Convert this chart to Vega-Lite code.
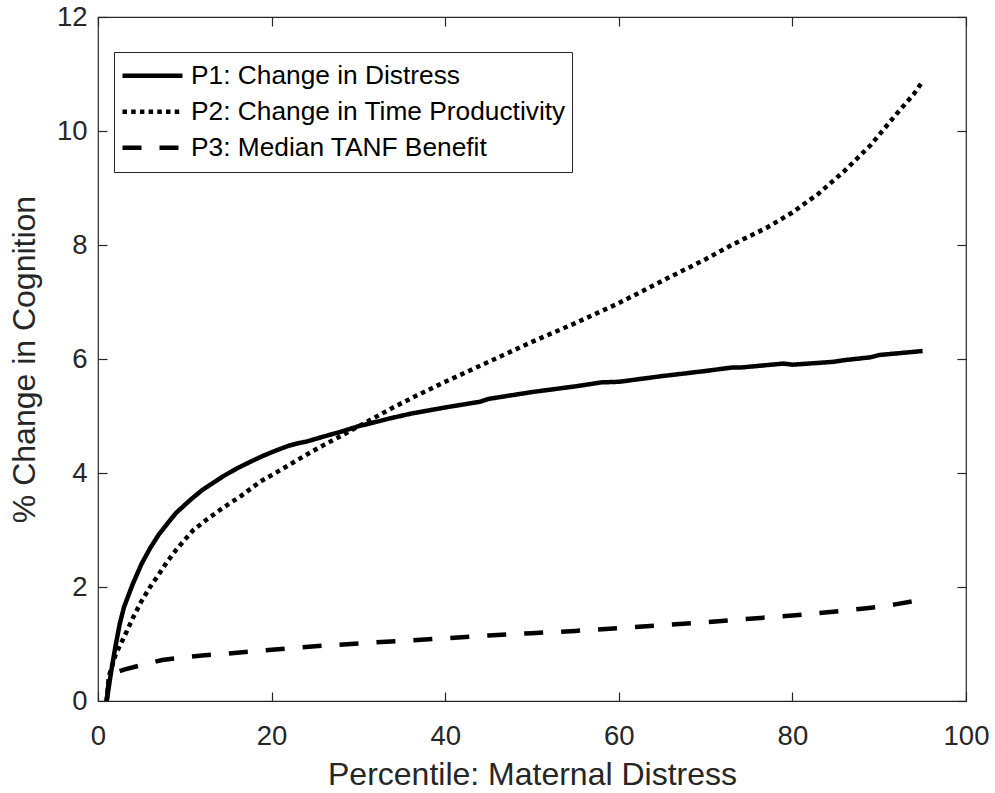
{
  "$schema": "https://vega.github.io/schema/vega-lite/v6.json",
  "width": 868,
  "height": 684,
  "autosize": {"type": "none"},
  "padding": {"left": 98, "top": 17, "right": 29, "bottom": 92},
  "config": {
    "font": "Liberation Sans",
    "view": {"stroke": "#262626", "strokeWidth": 1.2},
    "axis": {"grid": false, "domain": false, "labelFontSize": 27.5, "labelColor": "#262626", "tickColor": "#262626", "tickSize": -9, "tickWidth": 1.2, "titleFontSize": 32, "titleFontWeight": "normal", "titleColor": "#262626", "labelFlush": false, "labelOverlap": false}
  },
  "data": {"values": [
    {"s": "P1: Change in Distress", "x": 1, "y": 0},
    {"s": "P1: Change in Distress", "x": 1.5, "y": 0.5},
    {"s": "P1: Change in Distress", "x": 2, "y": 0.95},
    {"s": "P1: Change in Distress", "x": 2.5, "y": 1.35},
    {"s": "P1: Change in Distress", "x": 3, "y": 1.65},
    {"s": "P1: Change in Distress", "x": 4, "y": 2.05},
    {"s": "P1: Change in Distress", "x": 5, "y": 2.4},
    {"s": "P1: Change in Distress", "x": 6, "y": 2.68},
    {"s": "P1: Change in Distress", "x": 7, "y": 2.92},
    {"s": "P1: Change in Distress", "x": 8.35, "y": 3.18},
    {"s": "P1: Change in Distress", "x": 9, "y": 3.3},
    {"s": "P1: Change in Distress", "x": 10.65, "y": 3.53},
    {"s": "P1: Change in Distress", "x": 12, "y": 3.7},
    {"s": "P1: Change in Distress", "x": 13, "y": 3.8},
    {"s": "P1: Change in Distress", "x": 14.5, "y": 3.95},
    {"s": "P1: Change in Distress", "x": 16, "y": 4.08},
    {"s": "P1: Change in Distress", "x": 17.6, "y": 4.2},
    {"s": "P1: Change in Distress", "x": 19, "y": 4.3},
    {"s": "P1: Change in Distress", "x": 20.6, "y": 4.4},
    {"s": "P1: Change in Distress", "x": 22, "y": 4.48},
    {"s": "P1: Change in Distress", "x": 23.3, "y": 4.53},
    {"s": "P1: Change in Distress", "x": 24, "y": 4.55},
    {"s": "P1: Change in Distress", "x": 26, "y": 4.64},
    {"s": "P1: Change in Distress", "x": 27.9, "y": 4.72},
    {"s": "P1: Change in Distress", "x": 30, "y": 4.82},
    {"s": "P1: Change in Distress", "x": 33.7, "y": 4.96},
    {"s": "P1: Change in Distress", "x": 36, "y": 5.04},
    {"s": "P1: Change in Distress", "x": 40, "y": 5.15},
    {"s": "P1: Change in Distress", "x": 44, "y": 5.25},
    {"s": "P1: Change in Distress", "x": 45, "y": 5.3},
    {"s": "P1: Change in Distress", "x": 50, "y": 5.42},
    {"s": "P1: Change in Distress", "x": 55, "y": 5.52},
    {"s": "P1: Change in Distress", "x": 58, "y": 5.59},
    {"s": "P1: Change in Distress", "x": 60, "y": 5.6},
    {"s": "P1: Change in Distress", "x": 65, "y": 5.7},
    {"s": "P1: Change in Distress", "x": 70, "y": 5.79},
    {"s": "P1: Change in Distress", "x": 73, "y": 5.85},
    {"s": "P1: Change in Distress", "x": 74, "y": 5.85},
    {"s": "P1: Change in Distress", "x": 79, "y": 5.92},
    {"s": "P1: Change in Distress", "x": 80, "y": 5.9},
    {"s": "P1: Change in Distress", "x": 84.7, "y": 5.95},
    {"s": "P1: Change in Distress", "x": 86, "y": 5.98},
    {"s": "P1: Change in Distress", "x": 89, "y": 6.03},
    {"s": "P1: Change in Distress", "x": 90, "y": 6.07},
    {"s": "P1: Change in Distress", "x": 95, "y": 6.14},
    {"s": "P2: Change in Time Productivity", "x": 1, "y": 0},
    {"s": "P2: Change in Time Productivity", "x": 1.25, "y": 0.43},
    {"s": "P2: Change in Time Productivity", "x": 2, "y": 0.8},
    {"s": "P2: Change in Time Productivity", "x": 2.6, "y": 1.0},
    {"s": "P2: Change in Time Productivity", "x": 3, "y": 1.12},
    {"s": "P2: Change in Time Productivity", "x": 4, "y": 1.45},
    {"s": "P2: Change in Time Productivity", "x": 5, "y": 1.75},
    {"s": "P2: Change in Time Productivity", "x": 6, "y": 2.0},
    {"s": "P2: Change in Time Productivity", "x": 7, "y": 2.22},
    {"s": "P2: Change in Time Productivity", "x": 8, "y": 2.45},
    {"s": "P2: Change in Time Productivity", "x": 9, "y": 2.65},
    {"s": "P2: Change in Time Productivity", "x": 10, "y": 2.83},
    {"s": "P2: Change in Time Productivity", "x": 11, "y": 3.0},
    {"s": "P2: Change in Time Productivity", "x": 12.5, "y": 3.18},
    {"s": "P2: Change in Time Productivity", "x": 14.5, "y": 3.4},
    {"s": "P2: Change in Time Productivity", "x": 16.5, "y": 3.6},
    {"s": "P2: Change in Time Productivity", "x": 18.7, "y": 3.85},
    {"s": "P2: Change in Time Productivity", "x": 21, "y": 4.05},
    {"s": "P2: Change in Time Productivity", "x": 23, "y": 4.23},
    {"s": "P2: Change in Time Productivity", "x": 25.5, "y": 4.45},
    {"s": "P2: Change in Time Productivity", "x": 28, "y": 4.65},
    {"s": "P2: Change in Time Productivity", "x": 31, "y": 4.9},
    {"s": "P2: Change in Time Productivity", "x": 34, "y": 5.15},
    {"s": "P2: Change in Time Productivity", "x": 37, "y": 5.38},
    {"s": "P2: Change in Time Productivity", "x": 40, "y": 5.6},
    {"s": "P2: Change in Time Productivity", "x": 45, "y": 5.95},
    {"s": "P2: Change in Time Productivity", "x": 50, "y": 6.3},
    {"s": "P2: Change in Time Productivity", "x": 55, "y": 6.63},
    {"s": "P2: Change in Time Productivity", "x": 60, "y": 6.98},
    {"s": "P2: Change in Time Productivity", "x": 65, "y": 7.37},
    {"s": "P2: Change in Time Productivity", "x": 70, "y": 7.75},
    {"s": "P2: Change in Time Productivity", "x": 73, "y": 8.0},
    {"s": "P2: Change in Time Productivity", "x": 77, "y": 8.3},
    {"s": "P2: Change in Time Productivity", "x": 80, "y": 8.57},
    {"s": "P2: Change in Time Productivity", "x": 83, "y": 8.9},
    {"s": "P2: Change in Time Productivity", "x": 86, "y": 9.3},
    {"s": "P2: Change in Time Productivity", "x": 89, "y": 9.75},
    {"s": "P2: Change in Time Productivity", "x": 92, "y": 10.3},
    {"s": "P2: Change in Time Productivity", "x": 94, "y": 10.65},
    {"s": "P2: Change in Time Productivity", "x": 95, "y": 10.87},
    {"s": "P3: Median TANF Benefit", "x": 1, "y": 0},
    {"s": "P3: Median TANF Benefit", "x": 1.3, "y": 0.45},
    {"s": "P3: Median TANF Benefit", "x": 2, "y": 0.5},
    {"s": "P3: Median TANF Benefit", "x": 3, "y": 0.55},
    {"s": "P3: Median TANF Benefit", "x": 5, "y": 0.63},
    {"s": "P3: Median TANF Benefit", "x": 7.4, "y": 0.72},
    {"s": "P3: Median TANF Benefit", "x": 10, "y": 0.77},
    {"s": "P3: Median TANF Benefit", "x": 12, "y": 0.8},
    {"s": "P3: Median TANF Benefit", "x": 14, "y": 0.82},
    {"s": "P3: Median TANF Benefit", "x": 20, "y": 0.9},
    {"s": "P3: Median TANF Benefit", "x": 25, "y": 0.96},
    {"s": "P3: Median TANF Benefit", "x": 30, "y": 1.01},
    {"s": "P3: Median TANF Benefit", "x": 40, "y": 1.1},
    {"s": "P3: Median TANF Benefit", "x": 45, "y": 1.15},
    {"s": "P3: Median TANF Benefit", "x": 50, "y": 1.19},
    {"s": "P3: Median TANF Benefit", "x": 55, "y": 1.23},
    {"s": "P3: Median TANF Benefit", "x": 60, "y": 1.28},
    {"s": "P3: Median TANF Benefit", "x": 65, "y": 1.33},
    {"s": "P3: Median TANF Benefit", "x": 70, "y": 1.38},
    {"s": "P3: Median TANF Benefit", "x": 73, "y": 1.42},
    {"s": "P3: Median TANF Benefit", "x": 80, "y": 1.5},
    {"s": "P3: Median TANF Benefit", "x": 85, "y": 1.57},
    {"s": "P3: Median TANF Benefit", "x": 88, "y": 1.62},
    {"s": "P3: Median TANF Benefit", "x": 90, "y": 1.65},
    {"s": "P3: Median TANF Benefit", "x": 92, "y": 1.7},
    {"s": "P3: Median TANF Benefit", "x": 95, "y": 1.78}
  ]},
  "layer": [
    {
      "mark": {"type": "line", "color": "black", "strokeWidth": 4.5, "strokeCap": "butt"},
      "encoding": {
        "x": {"field": "x", "type": "quantitative", "scale": {"domain": [0, 100], "nice": false}, "axis": {"orient": "bottom", "values": [0, 20, 40, 60, 80, 100], "title": "Percentile: Maternal Distress", "labelPadding": 30, "titlePadding": 10}},
        "y": {"field": "y", "type": "quantitative", "scale": {"domain": [0, 12], "nice": false}, "axis": {"orient": "left", "values": [0, 2, 4, 6, 8, 10, 12], "title": "% Change in Cognition", "labelPadding": 20, "titlePadding": 15}},
        "strokeDash": {"field": "s", "type": "nominal", "scale": {"domain": ["P1: Change in Distress", "P2: Change in Time Productivity", "P3: Median TANF Benefit"], "range": [[1, 0], [4.5, 4.2], [19, 18]]},
          "legend": {"title": null, "orient": "none", "legendX": 16, "legendY": 35, "symbolType": "stroke", "symbolSize": 3600, "symbolStrokeWidth": 4.5, "symbolStrokeColor": "black", "clipHeight": 35.5, "rowPadding": 0, "labelOffset": 6, "labelFontSize": 26.3, "labelColor": "black", "labelLimit": 600, "padding": 6, "strokeColor": "#262626", "fillColor": "white"}}
      }
    },
    {
      "mark": {"type": "line", "opacity": 0},
      "encoding": {
        "x": {"field": "x", "type": "quantitative", "axis": {"orient": "top", "values": [0, 20, 40, 60, 80, 100], "labels": false, "title": null}},
        "y": {"field": "y", "type": "quantitative", "axis": {"orient": "right", "values": [0, 2, 4, 6, 8, 10, 12], "labels": false, "title": null}},
        "detail": {"field": "s"}
      }
    }
  ],
  "resolve": {"axis": {"x": "independent", "y": "independent"}}
}
